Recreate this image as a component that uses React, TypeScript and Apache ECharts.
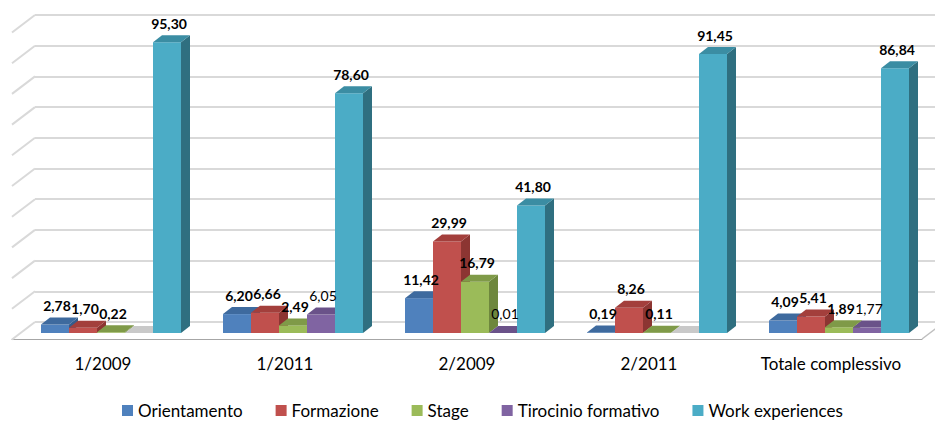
import { useEffect, useRef } from "react";
import * as echarts from "echarts";

// Categories and series values (percentages)
const categories = ["1/2009", "1/2011", "2/2009", "2/2011", "Totale complessivo"];
const orientamento: (number | null)[] = [2.78, 6.2, 11.42, 0.19, 4.09];
const formazione: (number | null)[] = [1.7, 6.66, 29.99, 8.26, 5.41];
const stage: (number | null)[] = [0.22, 2.49, 16.79, 0.11, 1.89];
const tirocinioFormativo: (number | null)[] = [null, 6.05, 0.01, null, 1.77];
const workExperiences: (number | null)[] = [95.3, 78.6, 41.8, 91.45, 86.84];

// Back-wall grid levels
const wallTicks = [0, 10, 20, 30, 40, 50, 60, 70, 80, 90, 100];

const seriesDefs = [
  { name: "Orientamento", values: orientamento, front: "#4F81BD", top: "#3E6A9E", side: "#355C8B", bold: true },
  { name: "Formazione", values: formazione, front: "#C0504D", top: "#A33F3C", side: "#8C3532", bold: true },
  { name: "Stage", values: stage, front: "#9BBB59", top: "#7F9A48", side: "#6E873D", bold: true },
  { name: "Tirocinio formativo", values: tirocinioFormativo, front: "#8064A2", top: "#6A5289", side: "#5A4575", bold: false },
  { name: "Work experiences", values: workExperiences, front: "#4BACC6", top: "#3B8DA3", side: "#2F6F80", bold: true },
];

const FONT = "Lato, 'Open Sans', 'Noto Sans', sans-serif";
// oblique depth of a single bar (right, up)
const DEPTH_X = 9;
const DEPTH_Y = 7;
// side wall depth
const WALL_X = 23;
const WALL_Y = 17.5;

const fmt = (v: number) => v.toFixed(2).replace(".", ",");

export default function App() {
  const ref = useRef<HTMLDivElement>(null);

  useEffect(() => {
    if (!ref.current) return;
    const chart = echarts.init(ref.current, undefined, { renderer: "svg" });

    const barSeries = seriesDefs.map((s, k) => ({
      type: "custom",
      name: s.name,
      xAxisIndex: 1,
      yAxisIndex: 1,
      z: 3,
      silent: true,
      itemStyle: { color: s.front },
      encode: { x: 0, y: 1 },
      data: s.values.map((v, i) => [i, v == null ? 0 : v, v == null ? 1 : 0]),
      renderItem: (_p: any, api: any) => {
        const ci = api.value(0);
        const v = api.value(1);
        const missing = api.value(2);
        const base = api.coord([ci, 0]);
        const topPt = api.coord([ci, v]);
        const band = api.size([1, 0])[0];
        const w = band / 6.5;
        const x = base[0] - 2.5 * w + k * w;
        const b = base[1];
        const t = topPt[1];
        const topFace = [
          [x, t],
          [x + w, t],
          [x + w + DEPTH_X, t - DEPTH_Y],
          [x + DEPTH_X, t - DEPTH_Y],
        ];
        if (missing) {
          return { type: "polygon", shape: { points: topFace }, style: { fill: "#c9c9c9" } };
        }
        return {
          type: "group",
          children: [
            { type: "rect", shape: { x, y: t, width: w, height: b - t }, style: { fill: s.front } },
            {
              type: "polygon",
              shape: {
                points: [
                  [x + w, t],
                  [x + w + DEPTH_X, t - DEPTH_Y],
                  [x + w + DEPTH_X, b - DEPTH_Y],
                  [x + w, b],
                ],
              },
              style: { fill: s.side },
            },
            { type: "polygon", shape: { points: topFace }, style: { fill: s.top } },
          ],
        };
      },
    }));

    const labelSeries = seriesDefs.map((s, k) => ({
      type: "custom",
      name: s.name,
      xAxisIndex: 1,
      yAxisIndex: 1,
      z: 10,
      silent: true,
      encode: { x: 0, y: 1 },
      data: s.values
        .map((v, i) => (v == null ? null : [i, v]))
        .filter((d) => d != null),
      renderItem: (_p: any, api: any) => {
        const ci = api.value(0);
        const v = api.value(1);
        const base = api.coord([ci, 0]);
        const topPt = api.coord([ci, v]);
        const band = api.size([1, 0])[0];
        const w = band / 6.5;
        const cx = base[0] - 2.5 * w + k * w + w / 2 + 2;
        return {
          type: "text",
          x: cx,
          y: topPt[1] - 19,
          style: {
            text: fmt(v),
            fill: "#000",
            fontFamily: FONT,
            fontSize: 14,
            fontWeight: s.bold ? "bold" : "normal",
            align: "center",
            verticalAlign: "middle",
          },
        };
      },
    }));

    chart.setOption({
      animation: false,
      backgroundColor: "#ffffff",
      legend: {
        data: seriesDefs.map((s) => s.name),
        left: 122,
        top: 402,
        padding: 0,
        icon: "rect",
        itemWidth: 11,
        itemHeight: 11,
        itemGap: 33,
        selectedMode: false,
        textStyle: { fontFamily: FONT, fontSize: 17, color: "#000" },
      },
      grid: [
        { left: 35, right: 0, top: 15, bottom: 101 }, // back wall
        { left: 20, right: 5, top: 28, bottom: 90 }, // bar front plane
        { left: 12, right: 13, top: 20, bottom: 84 }, // floor front edge
      ],
      xAxis: [
        { gridIndex: 0, type: "value", min: 0, max: 1, show: false },
        { gridIndex: 1, type: "category", data: categories, show: false },
        {
          gridIndex: 2,
          type: "category",
          data: categories,
          axisLine: { lineStyle: { color: "#a6a6a6", width: 1 } },
          axisTick: { length: 6, lineStyle: { color: "#a6a6a6" } },
          axisLabel: { interval: 0, margin: 16, fontFamily: FONT, fontSize: 17, color: "#000" },
        },
      ],
      yAxis: [
        {
          gridIndex: 0,
          type: "value",
          min: 0,
          max: 100,
          interval: 10,
          axisLine: { show: false },
          axisTick: { show: false },
          axisLabel: { show: false },
          splitLine: { lineStyle: { color: "#d9d9d9", width: 2 } },
        },
        { gridIndex: 1, type: "value", min: 0, max: 100, show: false },
        { gridIndex: 2, type: "value", min: 0, max: 1, show: false },
      ],
      series: [
        {
          // side-wall segments of the grid lines
          type: "custom",
          xAxisIndex: 0,
          yAxisIndex: 0,
          silent: true,
          z: 1,
          data: wallTicks.map((v) => [0, v]),
          encode: { x: 0, y: 1 },
          renderItem: (_p: any, api: any) => {
            const p = api.coord([0, api.value(1)]);
            return {
              type: "line",
              shape: { x1: p[0], y1: p[1], x2: p[0] - WALL_X, y2: p[1] + WALL_Y },
              style: { stroke: "#d9d9d9", lineWidth: 2 },
            };
          },
        },
        {
          // right edge of the floor
          type: "custom",
          xAxisIndex: 2,
          yAxisIndex: 2,
          silent: true,
          z: 1,
          data: [[categories.length - 1, 0]],
          encode: { x: 0, y: 1 },
          renderItem: (_p: any, api: any) => {
            const p = api.coord([api.value(0), 0]);
            const band = api.size([1, 0])[0];
            const x = p[0] + band / 2;
            return {
              type: "line",
              shape: { x1: x, y1: p[1], x2: x + WALL_X, y2: p[1] - WALL_Y },
              style: { stroke: "#bfbfbf", lineWidth: 1.5 },
            };
          },
        },
        ...barSeries,
        ...labelSeries,
      ],
    });

    return () => chart.dispose();
  }, []);

  return (
    <div
      ref={ref}
      style={{ position: "fixed", left: 0, top: 0, width: 935, height: 423, background: "#fff" }}
    />
  );
}
